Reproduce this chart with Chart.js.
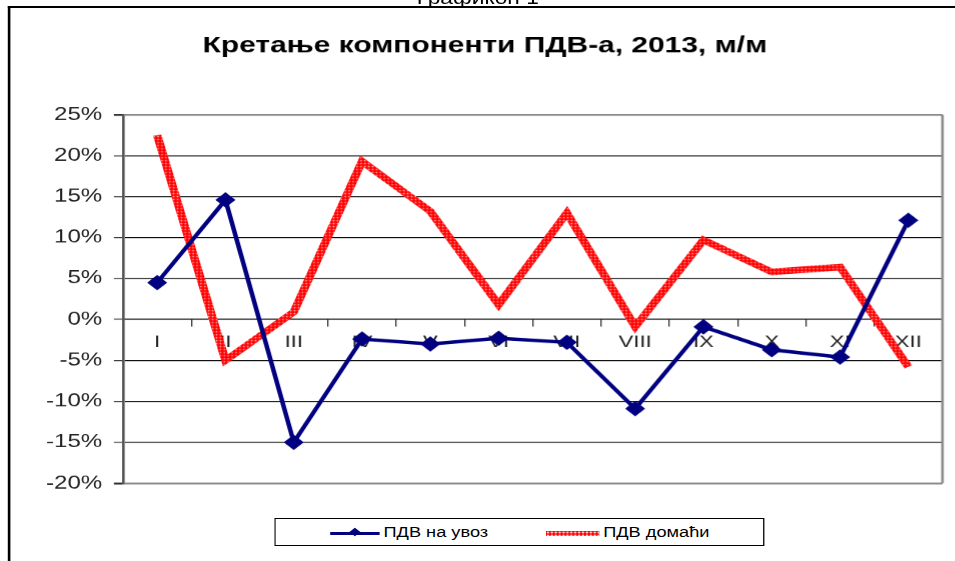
<!DOCTYPE html>
<html>
<head>
<meta charset="utf-8">
<title>Кретање компоненти ПДВ-а, 2013, м/м</title>
<script src="https://cdn.jsdelivr.net/npm/chart.js@4.4.1/dist/chart.umd.min.js"></script>
<style>
	html, body { margin: 0; padding: 0; background: #fff; overflow: hidden; }
	/* the source picture is stretched sideways, so the whole chart is too */
	#wrap {
		position: absolute; left: 0; top: 0;
		width: 735px; height: 561px;
		transform: scaleX(1.3); transform-origin: 0 0;
		font-family: "Liberation Sans", Arial, sans-serif;
	}
	#caption {
		position: absolute; left: 0; top: -12px; width: 735px;
		text-align: center; font-size: 17.5px; line-height: 20px; color: #000;
	}
	#frame {
		position: absolute; left: 6px; top: 6px; right: -20px; bottom: -20px;
		border-top: 2px solid #000; border-left: 2px solid #000;
	}
	#chartBox { position: absolute; left: 0; top: 0; width: 735px; height: 561px; }
	#legend {
		position: absolute; left: 211px; top: 518px; width: 375px; height: 26px;
		border: 1px solid #000; background: #fff;
		font-size: 14px; color: #000;
	}
	.item { position: absolute; top: 0; height: 26px; line-height: 26px; white-space: nowrap; }
	.swatch { display: inline-block; position: relative; vertical-align: middle; margin-right: 3px; }
	.blueLine { width: 38px; height: 3px; background: #000080; }
	.blueLine::after {
		content: ''; position: absolute; left: 16px; top: -2.5px;
		width: 6px; height: 6px; background: #000080; transform: rotate(45deg);
	}
	.redLine {
		width: 41px; height: 5px; background-color: #ff0000;
		background-image: radial-gradient(circle, #ffc8c8 35%, transparent 60%);
		background-size: 3px 3px;
	}
</style>
</head>
<body>
<div id="wrap">
	<div id="caption">Графикон 1</div>
	<div id="frame"></div>
	<div id="chartBox"><canvas id="vatChart"></canvas></div>
	<div id="legend">
		<span class="item" style="left:42px"><span class="swatch blueLine"></span>ПДВ на увоз</span>
		<span class="item" style="left:208px"><span class="swatch redLine"></span>ПДВ домаћи</span>
	</div>
</div>
<script>
// --- Data (month-on-month change, %) ---
const MONTHS = ['I', 'II', 'III', 'IV', 'V', 'VI', 'VII', 'VIII', 'IX', 'X', 'XI', 'XII'];
const IMPORT_VAT = [4.5, 14.6, -15.0, -2.4, -3.0, -2.3, -2.8, -10.9, -0.9, -3.7, -4.6, 12.1];
const DOMESTIC_VAT = [22.5, -5.0, 0.9, 19.3, 13.2, 1.8, 13.0, -0.9, 9.7, 5.8, 6.4, -5.8];
const Y_MIN = -20;
const Y_MAX = 25;
const Y_STEP = 5;

const FONT = '"Liberation Sans", Arial, sans-serif';

// Red line in the original is a dotted ribbon, build it as a small pattern
function makeDottedRed() {
	const c = document.createElement('canvas');
	c.width = 3; c.height = 3;
	const g = c.getContext('2d');
	g.fillStyle = '#ff0000';
	g.fillRect(0, 0, 3, 3);
	g.fillStyle = '#ffc0c0';
	g.beginPath();
	g.arc(1.5, 1.5, 0.75, 0, Math.PI * 2);
	g.fill();
	return g.createPattern(c, 'repeat');
}

// Grey line on the right edge of the plot area
const plotEdge = {
	id: 'plotEdge',
	beforeDatasetsDraw(chart) {
		const { ctx, chartArea } = chart;
		ctx.save();
		ctx.strokeStyle = '#8a8a8a';
		ctx.lineWidth = 2;
		ctx.beginPath();
		ctx.moveTo(chartArea.right, chartArea.top);
		ctx.lineTo(chartArea.right, chartArea.bottom);
		ctx.stroke();
		ctx.restore();
	}
};

function renderChart() {
	const ctx = document.getElementById('vatChart').getContext('2d');

	new Chart(ctx, {
		type: 'line',
		data: {
			labels: MONTHS,
			datasets: [
				{
					label: 'ПДВ на увоз',
					data: IMPORT_VAT,
					borderColor: '#000080',
					backgroundColor: '#000080',
					borderWidth: 3.5,
					pointStyle: 'rectRot',
					pointRadius: 7,
					pointBorderWidth: 1,
					tension: 0,
					order: 1
				},
				{
					label: 'ПДВ домаћи',
					data: DOMESTIC_VAT,
					borderColor: makeDottedRed(),
					borderWidth: 6.5,
					pointRadius: 0,
					tension: 0,
					order: 2
				}
			]
		},
		options: {
			responsive: true,
			maintainAspectRatio: false,
			devicePixelRatio: 1.3,
			animation: false,
			layout: { padding: { top: 0, left: 21, right: 10.4, bottom: 78 } },
			plugins: {
				legend: { display: false },
				tooltip: { enabled: false },
				title: {
					display: true,
					text: 'Кретање компоненти ПДВ-а, 2013, м/м',
					color: '#000',
					font: { family: FONT, size: 23, weight: 'bold' },
					padding: { top: 32, bottom: 55 }
				}
			},
			scales: {
				x: {
					type: 'category',
					offset: true,
					position: { y: 0 },
					grid: {
						drawOnChartArea: false,
						offset: true,
						tickLength: 7,
						color: '#333'
					},
					border: { display: true, color: '#000', width: 1 },
					ticks: {
						color: '#222',
						padding: 6,
						maxRotation: 0,
						font: { family: FONT, size: 17 }
					}
				},
				y: {
					min: Y_MIN,
					max: Y_MAX,
					afterFit: (scale) => { scale.width = 73.6; },
					grid: {
						color: (c) => (c.tick && (c.tick.value === Y_MAX || c.tick.value === Y_MIN)) ? '#8a8a8a' : '#000',
						lineWidth: (c) => (c.tick && (c.tick.value === Y_MAX || c.tick.value === Y_MIN)) ? 2 : 1,
						tickColor: '#333',
						tickLength: 7
					},
					border: { display: true, color: '#555', width: 2 },
					ticks: {
						stepSize: Y_STEP,
						color: '#222',
						padding: 9,
						font: { family: FONT, size: 18.5 },
						callback: (v) => v + '%'
					}
				}
			}
		},
		plugins: [plotEdge]
	});
}

renderChart();
</script>
</body>
</html>
